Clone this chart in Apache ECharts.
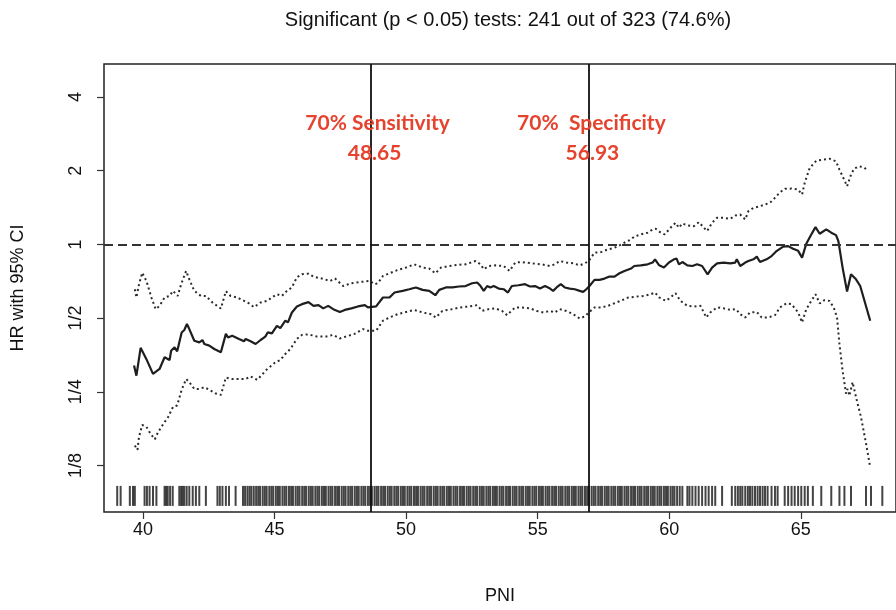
<!DOCTYPE html>
<html><head><meta charset="utf-8">
<script src="https://cdn.jsdelivr.net/npm/echarts@6/dist/echarts.min.js"></script>
<style>html,body{margin:0;padding:0;background:#fff}#c{width:896px;height:610px}</style>
</head><body><div id="c"></div>
<script>
const titleText = 'Significant (p < 0.05) tests: 241 out of 323 (74.6%)';
const xName = 'PNI';
const yName = 'HR with 95% CI';
const xTickValues = [40, 45, 50, 55, 60, 65];
const yTickValues = [0.125, 0.25, 0.5, 1, 2, 4];
const yTickLabels = ['1/8', '1/4', '1/2', '1', '2', '4'];
const cutoffs = [48.65, 56.93];
const cutoffTitles = ['70% Sensitivity', '70%  Specificity'];
const cutoffValues = ['48.65', '56.93'];
const refHR = 1;

const pni = [39.66,39.75,39.91,40.13,40.38,40.63,40.82,41.01,41.07,41.20,41.30,41.47,41.57,41.67,41.76,41.95,42.14,42.26,42.33,42.52,42.71,42.96,43.15,43.23,43.39,43.65,43.84,43.90,44.09,44.28,44.47,44.65,44.74,44.90,45.09,45.22,45.41,45.51,45.66,45.85,46.04,46.29,46.48,46.67,46.85,47.04,47.23,47.48,47.67,47.92,48.17,48.43,48.55,48.86,49.12,49.37,49.56,49.87,50.12,50.37,50.63,50.88,51.11,51.26,51.51,51.76,52.01,52.26,52.51,52.70,52.83,52.95,53.08,53.20,53.33,53.52,53.71,53.87,54.02,54.27,54.52,54.71,54.90,55.09,55.28,55.47,55.59,55.72,55.88,56.03,56.22,56.41,56.60,56.73,56.85,56.97,57.16,57.35,57.54,57.73,57.92,58.11,58.30,58.55,58.67,58.92,59.18,59.37,59.46,59.62,59.80,59.99,60.18,60.28,60.37,60.50,60.69,60.88,61.06,61.25,61.46,61.63,61.82,62.07,62.32,62.51,62.57,62.70,62.89,63.01,63.20,63.33,63.45,63.70,63.89,64.08,64.33,64.52,64.71,64.90,65.05,65.21,65.40,65.56,65.72,65.97,66.16,66.34,66.43,66.59,66.76,66.91,67.10,67.26,67.64];
const hr = [0.320,0.291,0.378,0.340,0.296,0.310,0.346,0.337,0.368,0.380,0.366,0.437,0.447,0.473,0.451,0.404,0.398,0.407,0.392,0.386,0.374,0.363,0.431,0.417,0.424,0.411,0.402,0.411,0.402,0.392,0.407,0.420,0.437,0.433,0.465,0.455,0.488,0.480,0.527,0.558,0.570,0.581,0.561,0.565,0.548,0.561,0.544,0.530,0.540,0.548,0.558,0.565,0.553,0.558,0.607,0.607,0.636,0.646,0.656,0.667,0.652,0.646,0.620,0.652,0.667,0.667,0.673,0.676,0.694,0.699,0.676,0.646,0.676,0.667,0.676,0.660,0.656,0.636,0.676,0.681,0.688,0.673,0.676,0.660,0.676,0.660,0.646,0.667,0.688,0.667,0.660,0.656,0.646,0.640,0.656,0.676,0.716,0.716,0.725,0.739,0.739,0.762,0.779,0.797,0.816,0.821,0.829,0.843,0.869,0.821,0.804,0.843,0.869,0.875,0.829,0.847,0.821,0.816,0.829,0.816,0.755,0.804,0.837,0.843,0.837,0.843,0.869,0.816,0.843,0.855,0.869,0.891,0.847,0.869,0.896,0.939,0.979,0.984,0.959,0.941,0.883,1.006,1.098,1.176,1.105,1.151,1.116,1.091,1.031,0.804,0.642,0.755,0.720,0.676,0.488];

const pniUpper = [39.69,39.75,39.85,39.97,40.13,40.32,40.48,40.63,40.82,41.01,41.14,41.32,41.45,41.64,41.76,41.95,42.20,42.39,42.64,42.96,43.15,43.33,43.58,43.84,44.03,44.22,44.47,44.72,44.90,45.09,45.28,45.47,45.66,45.85,46.04,46.29,46.48,46.80,47.11,47.30,47.61,47.92,48.30,48.62,48.80,48.93,49.12,49.37,49.68,50.00,50.31,50.63,50.88,51.11,51.33,51.64,51.95,52.26,52.64,52.83,52.95,53.14,53.39,53.71,53.93,54.15,54.40,54.77,55.15,55.47,55.65,55.84,56.09,56.35,56.60,56.79,56.94,57.16,57.41,57.67,57.92,58.11,58.30,58.55,58.67,58.92,59.18,59.37,59.49,59.68,59.83,60.05,60.24,60.37,60.50,60.69,60.94,61.13,61.32,61.44,61.63,61.82,62.07,62.32,62.51,62.70,62.89,63.01,63.20,63.45,63.64,63.83,64.02,64.21,64.40,64.65,64.90,65.05,65.15,65.34,65.59,65.84,66.09,66.34,66.47,66.65,66.76,66.91,67.03,67.22,67.41,67.53];
const upper = [0.656,0.607,0.688,0.766,0.709,0.607,0.544,0.561,0.607,0.616,0.646,0.616,0.688,0.779,0.720,0.646,0.616,0.616,0.579,0.547,0.644,0.616,0.607,0.588,0.574,0.554,0.579,0.588,0.607,0.626,0.616,0.646,0.667,0.734,0.755,0.759,0.738,0.725,0.709,0.725,0.676,0.694,0.703,0.709,0.688,0.694,0.743,0.762,0.786,0.804,0.829,0.804,0.797,0.762,0.804,0.816,0.825,0.829,0.855,0.829,0.791,0.816,0.821,0.816,0.779,0.843,0.847,0.837,0.829,0.816,0.829,0.855,0.843,0.837,0.821,0.837,0.855,0.925,0.930,0.954,0.969,0.991,1.016,1.048,1.075,1.098,1.116,1.151,1.158,1.116,1.098,1.169,1.225,1.169,1.217,1.195,1.187,1.232,1.169,1.133,1.225,1.284,1.284,1.272,1.312,1.324,1.264,1.366,1.410,1.432,1.455,1.478,1.549,1.632,1.685,1.690,1.674,1.598,1.782,2.051,2.196,2.218,2.238,2.182,2.019,1.838,1.727,1.927,2.038,2.082,2.063,2.000];

const pniLower = [39.69,39.79,39.85,39.97,40.13,40.28,40.45,40.57,40.76,40.95,41.14,41.30,41.47,41.64,41.76,41.95,42.14,42.33,42.52,42.77,42.96,43.15,43.39,43.65,43.90,44.09,44.34,44.53,44.65,44.84,45.03,45.22,45.41,45.60,45.85,46.04,46.29,46.60,46.98,47.23,47.48,47.73,48.04,48.36,48.55,48.86,49.12,49.37,49.68,50.00,50.31,50.63,50.94,51.13,51.38,51.76,52.07,52.39,52.70,52.89,53.14,53.39,53.65,53.84,54.00,54.15,54.40,54.71,54.96,55.22,55.47,55.65,55.84,56.09,56.35,56.60,56.79,56.97,57.16,57.41,57.67,57.92,58.17,58.42,58.73,59.05,59.30,59.46,59.62,59.87,60.05,60.24,60.43,60.69,60.94,61.19,61.41,61.56,61.82,62.07,62.32,62.54,62.70,62.89,63.07,63.33,63.51,63.77,64.02,64.21,64.46,64.65,64.90,65.05,65.21,65.40,65.56,65.72,65.90,66.09,66.25,66.38,66.47,66.59,66.72,66.78,66.85,66.97,67.10,67.29,67.48,67.64];
const lower = [0.151,0.145,0.164,0.183,0.180,0.169,0.160,0.171,0.184,0.197,0.217,0.220,0.255,0.282,0.274,0.257,0.257,0.261,0.255,0.246,0.243,0.286,0.282,0.282,0.282,0.289,0.280,0.294,0.305,0.317,0.330,0.337,0.357,0.374,0.411,0.427,0.429,0.421,0.421,0.427,0.413,0.421,0.431,0.451,0.444,0.444,0.488,0.503,0.519,0.530,0.540,0.527,0.519,0.503,0.535,0.544,0.553,0.558,0.565,0.535,0.544,0.548,0.535,0.514,0.535,0.553,0.553,0.548,0.535,0.527,0.535,0.527,0.544,0.535,0.519,0.498,0.508,0.530,0.553,0.553,0.561,0.575,0.589,0.606,0.612,0.616,0.626,0.636,0.607,0.588,0.607,0.632,0.588,0.561,0.558,0.561,0.503,0.527,0.553,0.548,0.540,0.544,0.519,0.503,0.527,0.530,0.503,0.503,0.514,0.553,0.575,0.570,0.527,0.480,0.544,0.588,0.626,0.574,0.592,0.588,0.553,0.503,0.392,0.305,0.246,0.257,0.241,0.274,0.238,0.197,0.154,0.123];

const rugValues = [39.02,39.15,39.50,39.62,39.69,40.06,40.15,40.25,40.38,40.51,40.82,40.88,40.94,41.03,41.13,41.38,41.45,41.51,41.57,41.66,41.76,41.89,42.01,42.14,42.39,42.83,42.92,43.02,43.15,43.27,43.52,
43.80,43.88,43.97,44.05,44.12,44.21,44.30,44.38,44.45,44.55,44.63,44.70,44.80,44.88,44.95,45.05,45.13,45.20,45.30,45.38,45.45,45.55,45.63,45.70,45.80,45.88,45.95,46.05,46.13,46.20,46.30,46.38,46.45,46.55,46.63,46.70,46.80,46.88,46.95,47.05,47.13,47.20,47.30,47.38,47.45,47.55,47.63,47.70,47.80,47.88,47.95,48.05,48.13,48.20,48.30,48.38,48.45,48.55,48.63,48.70,48.80,48.88,48.95,49.05,49.13,49.20,49.30,49.38,49.45,49.55,49.63,49.70,49.80,49.88,49.95,50.05,50.13,50.20,50.30,50.38,50.45,50.55,50.63,50.70,50.80,50.88,50.95,51.05,51.13,51.20,51.30,51.38,51.45,51.55,51.63,51.70,51.80,51.88,51.95,52.05,52.13,52.20,52.30,52.38,52.45,52.55,52.63,52.70,52.80,52.88,52.95,53.05,53.13,53.20,53.30,53.38,53.45,53.55,53.63,53.70,53.80,53.88,53.95,54.05,54.13,54.20,54.30,54.38,54.45,54.55,54.63,54.70,54.80,54.88,54.95,55.05,55.13,55.20,55.30,55.38,55.45,55.55,55.63,55.70,55.80,55.88,55.95,56.05,56.13,56.20,56.30,56.38,56.45,56.55,56.63,56.70,56.80,56.88,56.95,57.05,57.13,57.20,57.30,57.38,57.45,57.55,57.63,57.70,57.80,57.88,57.95,58.05,58.13,58.20,58.30,58.38,58.45,58.55,58.63,58.70,58.80,58.88,58.95,59.05,59.13,59.20,59.30,59.38,59.45,59.55,59.63,59.70,59.80,59.88,59.95,60.05,60.13,60.20,60.30,60.40,60.50,
60.69,60.77,60.88,61.00,61.12,61.25,61.38,61.50,61.63,61.75,62.01,62.38,62.51,62.61,62.70,62.78,62.89,62.99,63.07,63.16,63.26,63.36,63.45,63.55,63.64,63.74,63.89,64.02,64.12,64.39,64.52,64.65,64.77,64.90,65.02,65.15,65.27,65.46,65.78,66.16,66.47,66.66,66.91,67.48,67.67,68.10];

const zip = (xs, ys) => xs.map((x, i) => [x, ys[i]]);
const rugY = 0.094;
const ink = '#1e1e1e';
const red = '#e5432e';
const fontFamily = '"Liberation Sans", Arial, sans-serif';
const noteFont = 'bold 21px Lato, "Open Sans", sans-serif';

const chart = echarts.init(document.getElementById('c'), null, {renderer: 'canvas'});
const grid = {left: 104, top: 64, right: -6, bottom: 96};

const option = {
  animation: false,
  backgroundColor: '#ffffff',
  title: {
    text: titleText, left: 503, top: 5, textAlign: 'center',
    textStyle: {fontFamily, fontSize: 20, fontWeight: 'normal', color: '#111'}
  },
  grid: Object.assign({show: true, borderColor: '#222', borderWidth: 1.5, backgroundColor: 'transparent'}, grid),
  xAxis: {
    type: 'value', min: 38.518, max: 68.62,
    name: xName, nameLocation: 'middle', nameGap: 75,
    nameTextStyle: {fontFamily, fontSize: 18, color: '#111'},
    axisLine: {show: false},
    splitLine: {show: false},
    axisTick: {show: true, length: 7, customValues: xTickValues, lineStyle: {color: '#333', width: 1.2}},
    axisLabel: {customValues: xTickValues, margin: 9, fontFamily, fontSize: 18, color: '#111'}
  },
  yAxis: {
    type: 'log', logBase: 2, min: 0.0808, max: 5.45,
    name: yName, nameLocation: 'middle', nameGap: 77, nameRotate: 90,
    nameTextStyle: {fontFamily, fontSize: 18, color: '#111'},
    axisLine: {show: false},
    splitLine: {show: false},
    axisTick: {show: true, length: 7, customValues: yTickValues, lineStyle: {color: '#333', width: 1.2}},
    axisLabel: {
      customValues: yTickValues, rotate: 90, margin: 19, fontFamily, fontSize: 18, color: '#111',
      formatter: (v) => {
        const i = yTickValues.findIndex(t => Math.abs(t - v) / t < 1e-6);
        return i >= 0 ? yTickLabels[i] : '';
      }
    }
  },
  series: [
    {
      type: 'scatter', name: 'rug', data: rugValues.map(v => [v, rugY]),
      symbol: 'rect', symbolSize: [2, 20], itemStyle: {color: '#151515'}, silent: true, z: 1
    },
    {
      type: 'line', name: 'upper', data: zip(pniUpper, upper), showSymbol: false, symbol: 'none',
      lineStyle: {color: '#2a2a2a', width: 2, type: [2, 3]}, z: 3,
      markLine: {
        silent: true, symbol: ['none', 'none'], label: {show: false},
        lineStyle: {color: '#333', width: 2, type: [9, 5]},
        data: [{yAxis: refHR}]
      }
    },
    {
      type: 'line', name: 'lower', data: zip(pniLower, lower), showSymbol: false, symbol: 'none',
      lineStyle: {color: '#2a2a2a', width: 2, type: [2, 3]}, z: 3
    },
    {
      type: 'line', name: 'HR', data: zip(pni, hr), showSymbol: false, symbol: 'none',
      lineStyle: {color: ink, width: 2.2}, z: 4,
      markLine: {
        silent: true, symbol: ['none', 'none'], label: {show: false},
        lineStyle: {color: '#111', width: 1.8, type: 'solid'},
        data: cutoffs.map(v => ({xAxis: v}))
      }
    }
  ]
};
chart.setOption(option);

const textEls = [];
cutoffs.forEach((v, i) => {
  const px = chart.convertToPixel({gridIndex: 0}, [v, 1])[0];
  const cx = px + (i === 0 ? 7 : 3);
  textEls.push({
    type: 'text', x: cx, y: 123, z: 10,
    style: {text: cutoffTitles[i], align: 'center', verticalAlign: 'middle', font: noteFont, fill: red}
  });
  textEls.push({
    type: 'text', x: px + 4, y: 153, z: 10,
    style: {text: cutoffValues[i], align: 'center', verticalAlign: 'middle', font: noteFont, fill: red}
  });
});
chart.setOption({graphic: textEls});
</script>
</body></html>
